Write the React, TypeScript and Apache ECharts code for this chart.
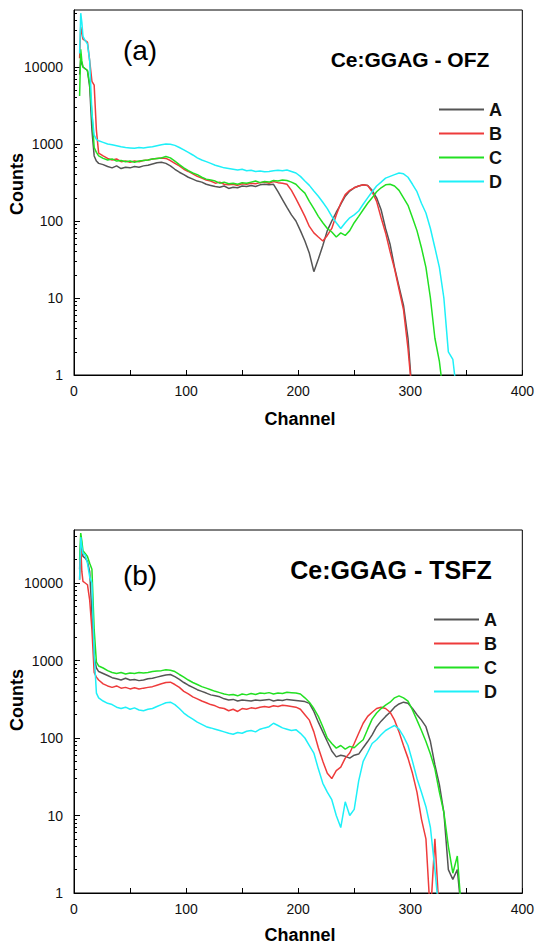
import React, { useEffect, useRef } from "react";
import * as echarts from "echarts";

// Channel grid (x values)
const CHANNELS = [
  5, 6, 7, 8, 10, 12, 14, 16, 18, 20, 22,
  26, 30, 34, 38, 42, 46, 50, 54, 58, 62, 66, 70, 74, 78, 82, 86, 90, 94, 98,
  102, 106, 110, 114, 118, 122, 126, 130, 134, 138, 142, 146, 150, 154, 158, 162, 166, 170, 174,
  178, 182, 186, 190, 194, 198, 202, 206, 210, 214, 218, 222, 226, 230, 234, 238, 242, 246, 250,
  254, 258, 262, 266, 270, 274, 278, 282, 286, 290, 294, 298, 302, 306, 310, 314, 318, 322, 326,
  330, 334, 338, 342, 346,
];

// Panel (a) Ce:GGAG - OFZ
const OFZ_A = [
  8000, 12500, 11000, 10000, 9500, 9000, 5500, 1500, 700, 600, 560,
  540, 510, 490, 520, 480, 500, 490, 510, 500, 520, 530, 550, 570, 580, 560, 520, 470, 430, 400,
  370, 350, 330, 320, 300, 290, 280, 275, 285, 265, 275, 270, 285, 280, 290, 280, 295, 300, 295,
  300, 240, 190, 150, 120, 100, 75, 55, 38, 22, 32, 48, 75, 100, 130, 165, 210, 245, 270,
  285, 295, 290, 250, 200, 140, 80, 50, 25, 14, 8, 3, 0.5, null, null, null, null, null, null,
  null, null, null, null, null,
];
const OFZ_B = [
  13000, 33000, 28000, 23000, 22000, 21000, 12000, 6500, 5800, 1500, 760,
  700, 650, 620, 640, 590, 600, 580, 600, 590, 610, 620, 640, 650, 660, 650, 610, 560, 520, 470,
  440, 410, 380, 360, 340, 330, 310, 320, 300, 295, 300, 290, 305, 300, 310, 305, 315, 320, 310,
  325, 315, 310, 300, 250, 195, 150, 115, 85, 70, 62, 55, 65, 80, 120, 170, 220, 250, 270,
  285, 295, 290, 240, 180, 110, 70, 40, 24, 13, 7, 2.2, 0.5, null, null, null, null, null, null,
  null, null, null, null, null,
];
const OFZ_C = [
  4200, 17000, 12000, 10000, 9500, 9000, 6000, 2500, 900, 780, 700,
  650, 620, 640, 600, 610, 590, 600, 580, 600, 610, 620, 640, 650, 660, 690, 660, 600, 540, 490,
  450, 420, 400, 370, 350, 340, 330, 310, 320, 305, 310, 300, 315, 310, 320, 330, 315, 325, 320,
  335, 330, 340, 335, 320, 300, 260, 230, 180, 145, 115, 95, 80, 72, 62, 70, 65, 75, 95,
  115, 140, 170, 200, 240, 270, 295, 300, 285, 250, 200, 160, 110, 75, 45, 25, 10, 3, 1.5,
  0.5, null, null, null, null,
];
const OFZ_D = [
  15000, 50000, 38000, 25000, 22000, 20000, 12000, 2500, 1300, 1150, 1100,
  1050, 1000, 980, 950, 920, 900, 890, 880, 900, 890, 910, 920, 950, 980, 1000, 990, 960, 900, 840,
  780, 720, 660, 620, 590, 560, 530, 510, 490, 480, 470, 460, 470, 450, 455, 440, 445, 435, 440,
  450, 455, 450, 460, 440, 420, 380, 330, 290, 245, 210, 175, 145, 115, 95, 80, 95, 110, 120,
  135, 165, 200, 240, 285, 320, 360, 380, 400, 420, 410, 370, 300, 240, 170, 127, 80, 45, 25,
  10, 2, 1.6, 0.5, null,
];

// Panel (b) Ce:GGAG - TSFZ
const TSFZ_A = [
  15000, 33000, 28000, 22000, 21000, 19000, 14000, 4000, 1100, 800, 720,
  680, 640, 600, 580, 560, 590, 560, 570, 550, 560, 580, 590, 610, 630, 650, 660, 620, 570, 520,
  480, 450, 420, 400, 380, 360, 350, 340, 320, 310, 315, 300, 310, 305, 300, 310, 305, 310, 315,
  300, 310, 305, 315, 310, 305, 300, 295, 280, 220, 160, 120, 90, 68, 57, 60, 58, 55, 60,
  62, 75, 90, 110, 140, 165, 190, 215, 250, 275, 290, 280, 240, 200, 170, 140, 90, 45, 25,
  11, 2, 1.5, 2, 0.5,
];
const TSFZ_B = [
  11000, 30000, 14000, 10500, 10000, 9500, 6000, 2500, 700, 610, 560,
  500, 470, 450, 470, 440, 450, 430, 445, 430, 440, 450, 460, 480, 500, 520, 525, 490, 450, 400,
  370, 340, 320, 300, 285, 270, 260, 245, 240, 225, 235, 220, 240, 235, 245, 240, 250, 255, 250,
  260, 255, 265, 260, 255, 250, 235, 200, 170, 120, 75, 50, 35, 30, 38, 42, 55, 64, 85,
  115, 155, 190, 215, 240, 250, 240, 215, 170, 120, 80, 55, 35, 20, 9, 5, 0.5, 5, 0.5,
  null, null, null, null, null,
];
const TSFZ_C = [
  20000, 44000, 35000, 26000, 24000, 22000, 18000, 15000, 2500, 950, 850,
  800, 740, 700, 680, 700, 670, 690, 680, 700, 690, 700, 720, 730, 740, 760, 750, 720, 660, 610,
  560, 520, 490, 460, 440, 420, 400, 385, 370, 360, 365, 350, 370, 360, 375, 365, 380, 375, 385,
  370, 380, 375, 390, 385, 380, 370, 330, 290, 240, 190, 140, 100, 85, 74, 80, 72, 78, 75,
  85, 95, 130, 175, 210, 240, 265, 290, 330, 350, 330, 300, 230, 170, 125, 90, 62, 40, 20,
  11, 4, 1.8, 3, 0.5,
];
const TSFZ_D = [
  11000, 39000, 30000, 24000, 23000, 18000, 12000, 10000, 1200, 380, 330,
  300, 280, 270, 250, 240, 250, 235, 245, 230, 225, 235, 240, 255, 270, 285, 290, 270, 240, 210,
  190, 175, 160, 150, 140, 135, 130, 125, 120, 115, 112, 118, 115, 122, 125, 120, 130, 135, 140,
  155, 145, 135, 130, 125, 128, 115, 100, 80, 64, 40, 26, 20, 16, 10, 7, 15, 10, 12,
  28, 50, 65, 85, 95, 110, 125, 135, 145, 130, 105, 80, 50, 30, 20, 13, 7, 2, 0.5,
  null, null, null, null, null,
];

const SERIES_NAMES = ["A", "B", "C", "D"];
const PANEL_A = [OFZ_A, OFZ_B, OFZ_C, OFZ_D];
const PANEL_B = [TSFZ_A, TSFZ_B, TSFZ_C, TSFZ_D];
const COLORS = ["#555555", "#ee3b3b", "#22e022", "#1ef0f8"];

const X_MIN = 0;
const X_MAX = 400;
const X_INTERVAL = 100;
const Y_LABELS = [1, 10, 100, 1000, 10000];
const Y_MINOR = [
  2, 3, 4, 5, 6, 7, 8, 9,
  20, 30, 40, 50, 60, 70, 80, 90,
  200, 300, 400, 500, 600, 700, 800, 900,
  2000, 3000, 4000, 5000, 6000, 7000, 8000, 9000,
  20000, 30000, 40000, 50000,
];
const Y_MAX = [55000, 48300];

const FONT = '"Liberation Sans", Arial, Helvetica, sans-serif';

function pairs(values: (number | null)[]) {
  const out: [number, number][] = [];
  for (let i = 0; i < CHANNELS.length; i++) {
    const v = values[i];
    if (v !== null && v !== undefined) out.push([CHANNELS[i], v]);
  }
  return out;
}

function text(
  str: string,
  x: number,
  y: number,
  size: number,
  bold: boolean,
  rotation = 0
) {
  const font = `${bold ? "bold " : ""}${size}px ${FONT}`;
  return {
    type: "text",
    x,
    y,
    rotation,
    silent: true,
    style: {
      text: str,
      font,
      fill: "#000",
      textAlign: "center",
      textVerticalAlign: "middle",
      align: "center",
      verticalAlign: "middle",
    },
  };
}

export default function App() {
  const ref = useRef<HTMLDivElement>(null);

  useEffect(() => {
    if (!ref.current) return;
    const chart = echarts.init(ref.current, undefined, { renderer: "svg" });

    const grids = [
      { left: 74, top: 10, width: 451, height: 365 },
      { left: 74, top: 530, width: 451, height: 363 },
    ].map((g) => ({
      ...g,
      show: true,
      borderColor: "#000",
      borderWidth: 1,
      backgroundColor: "transparent",
    }));

    const xAxes = [0, 1].map((i) => ({
      type: "value",
      gridIndex: i,
      min: X_MIN,
      max: X_MAX,
      interval: X_INTERVAL,
      axisLine: { show: true, lineStyle: { color: "#000", width: 1 } },
      axisTick: { show: true, inside: true, length: 5, lineStyle: { color: "#000" } },
      minorTick: { show: true, splitNumber: 2, length: 5, lineStyle: { color: "#000" } },
      splitLine: { show: false },
      minorSplitLine: { show: false },
      axisLabel: { color: "#111", fontSize: 14, fontFamily: FONT, margin: 9 },
    }));

    const yAxes: any[] = [];
    [0, 1].forEach((i) => {
      yAxes.push({
        type: "log",
        logBase: 10,
        gridIndex: i,
        position: "left",
        min: 1,
        max: Y_MAX[i],
        axisLine: { show: true, lineStyle: { color: "#000", width: 1 } },
        axisTick: {
          show: true,
          inside: true,
          length: 6,
          customValues: Y_LABELS,
          lineStyle: { color: "#000" },
        },
        axisLabel: {
          customValues: Y_LABELS,
          formatter: (v: number) => String(Math.round(v)),
          color: "#111",
          fontSize: 14,
          fontFamily: FONT,
          margin: 11,
        },
        splitLine: { show: false },
      });
      yAxes.push({
        type: "log",
        logBase: 10,
        gridIndex: i,
        position: "left",
        offset: 0,
        min: 1,
        max: Y_MAX[i],
        axisLine: { show: false },
        axisTick: {
          show: true,
          inside: true,
          length: 3,
          customValues: Y_MINOR,
          lineStyle: { color: "#000" },
        },
        axisLabel: { show: false },
        splitLine: { show: false },
      });
    });

    const series: any[] = [];
    [PANEL_A, PANEL_B].forEach((panel, p) => {
      panel.forEach((vals, k) => {
        series.push({
          type: "line",
          name: SERIES_NAMES[k],
          xAxisIndex: p,
          yAxisIndex: p * 2,
          data: pairs(vals),
          showSymbol: false,
          symbol: "none",
          clip: true,
          lineStyle: { color: COLORS[k], width: 1.5 },
          itemStyle: { color: COLORS[k] },
          emphasis: { disabled: true },
        });
      });
    });

    const legendBase = {
      orient: "vertical",
      icon: "rect",
      itemWidth: 45,
      itemHeight: 2,
      itemGap: 5,
      selectedMode: false,
      data: SERIES_NAMES,
      textStyle: { fontSize: 18, fontWeight: "bold", color: "#111", fontFamily: FONT, lineHeight: 19 },
    };

    chart.setOption({
      animation: false,
      backgroundColor: "#fff",
      grid: grids,
      xAxis: xAxes,
      yAxis: yAxes,
      series,
      legend: [
        { ...legendBase, left: 434, top: 95 },
        { ...legendBase, left: 429, top: 605 },
      ],
      graphic: [
        text("(a)", 140, 50, 28, false),
        text("(b)", 140, 575, 28, false),
        text("Ce:GGAG - OFZ", 410, 59, 21, true),
        text("Ce:GGAG - TSFZ", 391, 570, 25, true),
        text("Counts", 17, 184, 18, true, Math.PI / 2),
        text("Counts", 17, 700, 18, true, Math.PI / 2),
        text("Channel", 300, 419, 18, true),
        text("Channel", 300, 935, 18, true),
      ],
    });

    return () => chart.dispose();
  }, []);

  return (
    <div
      ref={ref}
      style={{ position: "absolute", left: 0, top: 0, width: 537, height: 945 }}
    />
  );
}
